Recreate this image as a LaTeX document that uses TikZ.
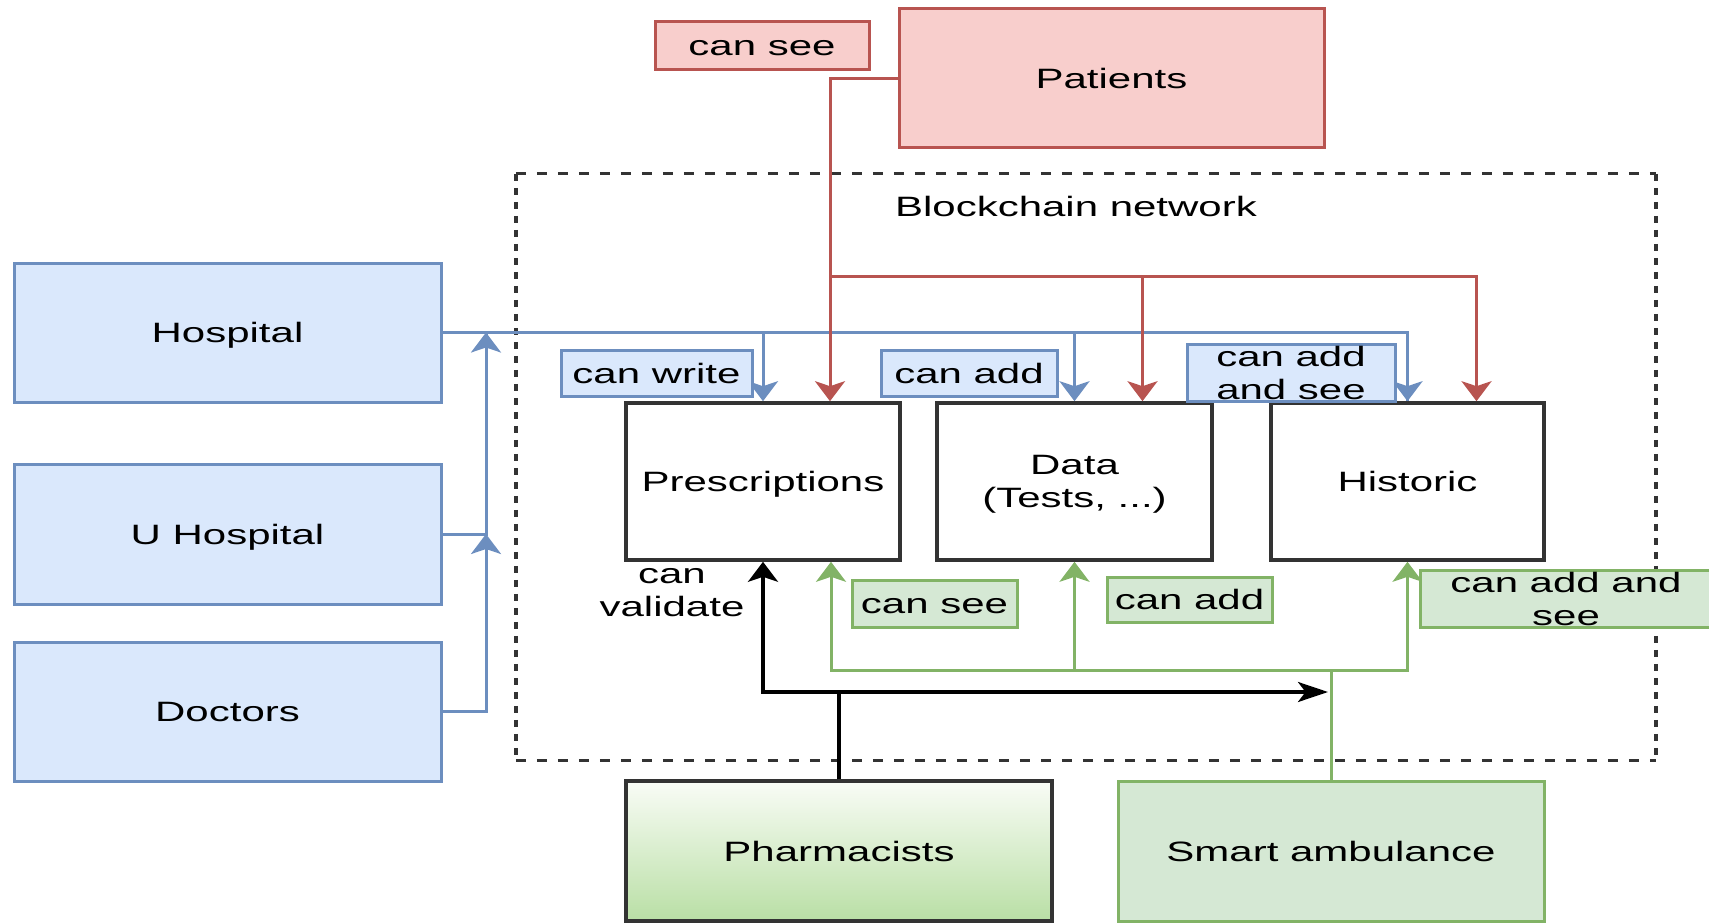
\documentclass[tikz,border=0pt]{standalone}
\usepackage{fontspec}
\setmainfont{Liberation Sans}[FakeStretch=1.5]
\usetikzlibrary{arrows.meta}
\definecolor{bfill}{HTML}{DAE8FC}
\definecolor{bdraw}{HTML}{6C8EBF}
\definecolor{rfill}{HTML}{F8CECC}
\definecolor{rdraw}{HTML}{B85450}
\definecolor{gfill}{HTML}{D5E8D4}
\definecolor{gdraw}{HTML}{82B366}
\definecolor{gdark}{HTML}{B9DFA5}
\definecolor{gtop}{HTML}{F9FCF6}
\definecolor{kdraw}{HTML}{333333}
\begin{document}
\begin{tikzpicture}[x=1pt,y=-1pt,
  every node/.style={font=\fontsize{28}{33}\selectfont, inner sep=0pt, align=center, text=black},
  one/.style={text height=20pt, text depth=0pt},
  sz/.style 2 args={minimum width=#1pt, minimum height=#2pt},
  bluebox/.style={draw=bdraw, fill=bfill, line width=3pt},
  redbox/.style={draw=rdraw, fill=rfill, line width=3pt},
  greenbox/.style={draw=gdraw, fill=gfill, line width=3pt},
  blackbox/.style={draw=kdraw, fill=white, line width=3.6pt},
  pharmbox/.style={draw=kdraw, top color=gtop, bottom color=gdark, line width=3.2pt},
  hdash/.style={draw=kdraw, line width=2.7pt, dash pattern=on 10.5pt off 10.5pt},
  vdash/.style={draw=kdraw, line width=3.8pt, dash pattern=on 7pt off 7pt},
  vtip/.tip={Stealth[length=20pt,width=30pt,inset=5pt]},
  htip/.tip={Stealth[length=30pt,width=20pt,inset=7.5pt]},
  bluec/.style={draw=bdraw, line width=3pt},
  redc/.style={draw=rdraw, line width=3pt},
  greenc/.style={draw=gdraw, line width=3pt},
  blackc/.style={draw=black, line width=3.3pt},
]
\useasboundingbox (0,0) rectangle (1709,923);

% blockchain network frame
\node[sz={1140}{586}] (bc) at (1086,467) {};
\draw[hdash] (bc.north west) -- (bc.north east);
\draw[hdash] (bc.south west) -- (bc.south east);
\draw[vdash] (bc.north west) -- (bc.south west);
\draw[vdash] (bc.north east) -- (bc.south east);
\node[one] (bclabel) at (1076,206) {Blockchain network};

% main boxes
\node[bluebox, one, sz={427}{139}] (hosp) at (227.5,332.5) {Hospital};
\node[bluebox, one, sz={427}{140}] (uhosp) at (227.5,534) {U Hospital};
\node[bluebox, one, sz={427}{139}] (doc) at (227.5,711.5) {Doctors};
\node[redbox, one, sz={425}{139}] (pat) at (1111.5,78.5) {Patients};
\node[blackbox, one, sz={274}{157}] (pre) at (763,481.5) {Prescriptions};
\node[blackbox, sz={275}{157}] (dat) at (1074.5,481.5) {};
\node (dattxt) at (1074.5,484.5) {Data\\(Tests, ...)};
\node[blackbox, one, sz={273}{157}] (his) at (1407.5,481.5) {Historic};
\node[pharmbox, one, sz={426}{140}] (pha) at (839,851) {Pharmacists};
\node[greenbox, one, sz={426}{140}] (amb) at (1331,851) {Smart ambulance};

% coordinates for junctions
\coordinate (rsplit) at (830,276);
\coordinate (lj) at (486,332.5);
\coordinate (gT) at (1331,670);
\coordinate (kT) at (839,692);

% blue connectors
\draw[bluec] (uhosp.east) -| (lj);
\draw[bluec,-vtip] (uhosp.east -| lj) -- (lj);
\draw[bluec,-vtip] (doc.east) -| (uhosp.east -| lj);
\draw[bluec] (hosp.east) -| (his.north);
\draw[bluec,-vtip] (hosp.east -| pre.north) -- (pre.north);
\draw[bluec,-vtip] (hosp.east -| dat.north) -- (dat.north);
\draw[bluec,-vtip] (hosp.east -| his.north) -- (his.north);

% red connectors
\draw[redc,-vtip] (pat.west) -| ([xshift=67pt]pre.north);
\draw[redc,-vtip] (rsplit) -| ([xshift=68pt]dat.north);
\draw[redc,-vtip] (rsplit) -| ([xshift=69pt]his.north);

% green connectors
\draw[greenc] (amb.north) -- (gT);
\draw[greenc,-vtip] (gT) -| ([xshift=68pt]pre.south);
\draw[greenc,-vtip] (gT) -| (his.south);
\draw[greenc,-vtip] (dat.south |- gT) -- (dat.south);

% black connectors
\draw[blackc,-vtip] (pha.north) -- (kT) -| (pre.south);
\draw[blackc,-htip] (pre.south |- kT) -- ([xshift=-3pt]amb.north |- kT);

% labels
\node[redbox, one, sz={214}{48}] (l1) at (762,46) {can see};
\node[bluebox, one, sz={191}{46}] (l2) at (656.5,373) {can write};
\node[bluebox, one, sz={176}{46}] (l3) at (969,373) {can add};
\node[bluebox, sz={208}{57}] (l4) at (1291,372.5) {can add\\and see};
\node[greenbox, one, sz={165}{47}] (l5) at (934.5,603.5) {can see};
\node[greenbox, one, sz={165}{45}] (l6) at (1189.5,599.5) {can add};
\node[greenbox, sz={292}{57}] (l7) at (1566,598.5) {can add and\\see};
\node (l8) at (672,593) {can\\validate};
\end{tikzpicture}
\end{document}
